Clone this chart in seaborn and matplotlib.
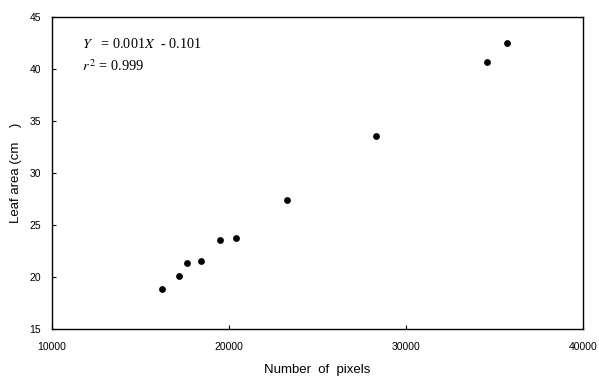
import matplotlib
matplotlib.use("Agg")
import matplotlib.pyplot as plt
import seaborn as sns
import pandas as pd

# data
pixels = [16200, 17200, 17600, 18400, 19500, 20400, 23300, 28300, 34600, 35700]
leaf_area = [18.85, 20.1, 21.4, 21.55, 23.6, 23.75, 27.4, 33.6, 40.7, 42.5]
x_ticks = [10000, 20000, 30000, 40000]
y_ticks = [15, 20, 25, 30, 35, 40, 45]

df = pd.DataFrame({"pixels": pixels, "area": leaf_area})

sns.set_style("ticks")
plt.rcParams["font.family"] = ["Liberation Sans", "DejaVu Sans"]
plt.rcParams["text.color"] = "black"
plt.rcParams["axes.labelcolor"] = "black"
plt.rcParams["xtick.color"] = "black"
plt.rcParams["ytick.color"] = "black"

fig = plt.figure(figsize=(5.99, 3.77), dpi=100)
ax = fig.add_axes([0.087, 0.127, 0.886, 0.828])

sns.scatterplot(data=df, x="pixels", y="area", color="black", s=24,
                edgecolor="black", linewidth=0, ax=ax)

ax.set_xlim(10000, 40000)
ax.set_ylim(15, 45)
ax.set_xticks(x_ticks)
ax.set_yticks(y_ticks)
ax.tick_params(axis="x", direction="in", length=3, width=0.8, pad=9, labelsize=7.5)
ax.tick_params(axis="y", direction="in", length=3, width=0.8, pad=8, labelsize=7.5)
for s in ax.spines.values():
    s.set_color("black")
    s.set_linewidth(1.0)

ax.set_xlabel("Number  of  pixels", fontsize=9.5, labelpad=9)
ax.set_ylabel("Leaf area (cm    )", fontsize=9.5, labelpad=5)

ax.text(0.056, 0.913, r"$Y$   = 0.001$X$  - 0.101", transform=ax.transAxes,
        fontsize=10.3, family="Liberation Serif", va="center",
        math_fontfamily="stix")
ax.text(0.056, 0.843, r"$r^{\,2}$ = 0.999", transform=ax.transAxes,
        fontsize=10.3, family="Liberation Serif", va="center",
        math_fontfamily="stix")

plt.savefig("out.png", dpi=100)
